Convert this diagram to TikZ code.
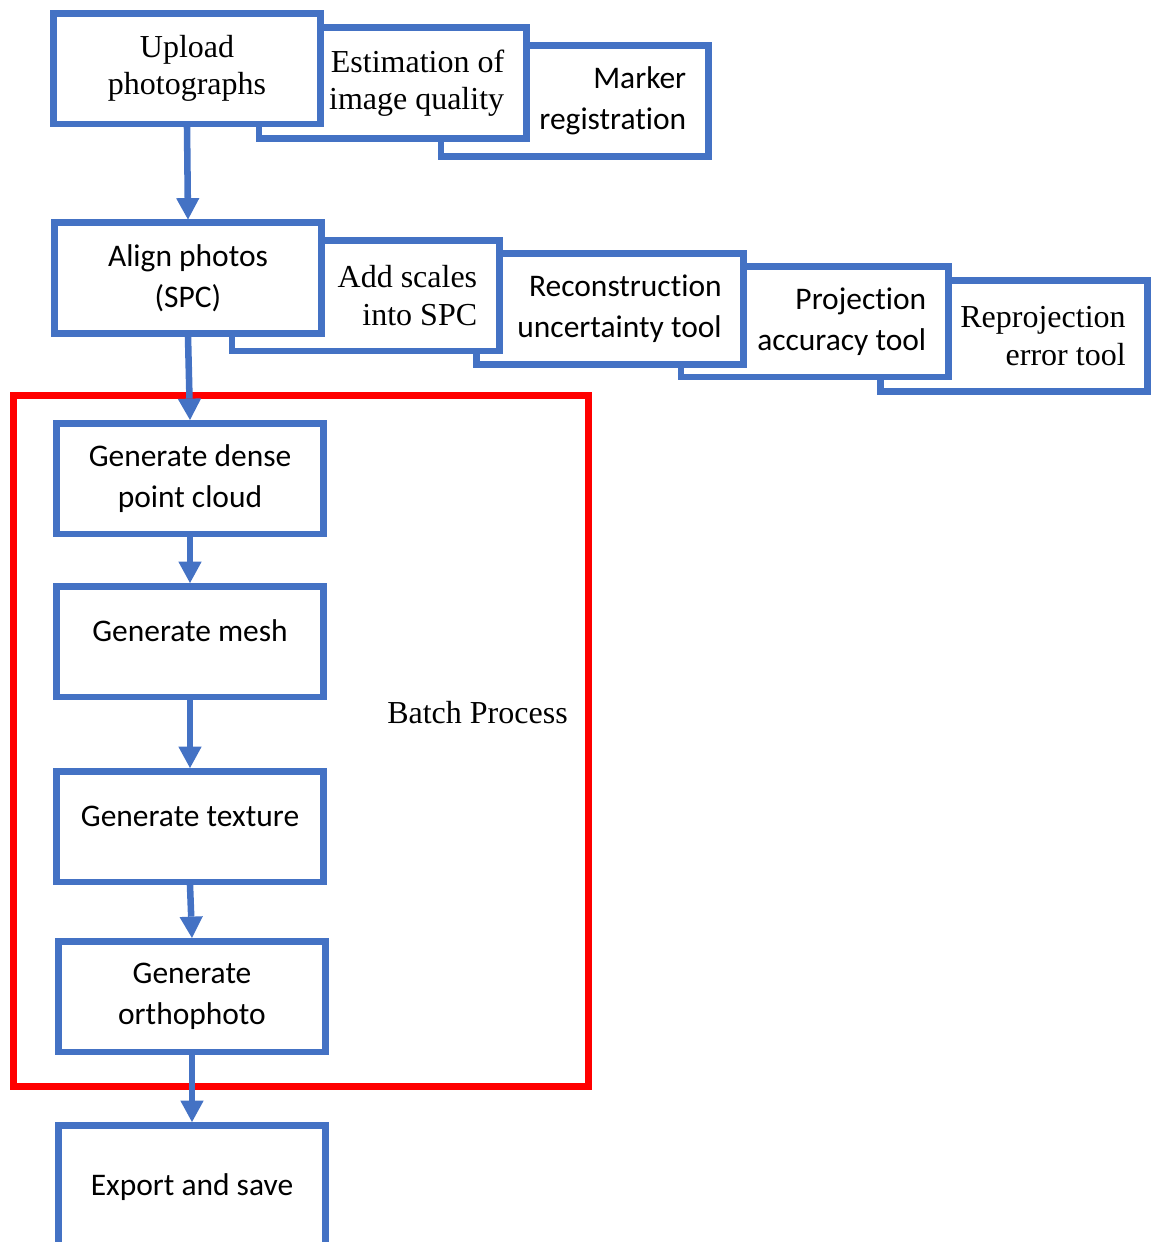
\documentclass[tikz,border=0pt]{standalone}
\usepackage{fontspec}
\setmainfont{Liberation Serif}
\setsansfont{Carlito}[Ligatures=NoCommon]
\usetikzlibrary{arrows.meta}
\definecolor{boxblue}{HTML}{4472C4}

\begin{document}
\begin{tikzpicture}[x=0.75pt,y=-0.75pt,
        block/.style={draw=boxblue,line width=4.9pt,fill=white,rectangle,inner sep=0pt,
                      minimum width=200.6pt,minimum height=82.9pt,align=center},
        romantext/.style={font=\fontsize{24}{28}\selectfont},
        sanstext/.style={font=\sffamily\fontsize{23.6}{30.75}\selectfont},
        offsettext/.style={text width=167.5pt,align=flush right},
        oneline/.style={text height=12pt,text depth=12pt},
        flowarrow/.style={draw=boxblue,line width=4.9pt,-{Triangle[width=17.5pt,length=16pt,line width=0pt]}}]

   \useasboundingbox (0,0) rectangle (1153,1242);
   \draw[red,line width=5.25pt] (13.5,395.5) rectangle (588.5,1086.5);

   \node[block,sanstext,offsettext] (marker) at (574.5,101) {Marker\\registration};
   \node[block,romantext,offsettext] (estim) at (392.5,83) {Estimation of\\image quality};
   \node[block,romantext] (upload) at (187,68.5) {Upload\\photographs};

   \node[block,romantext,offsettext] (reproj) at (1014,336) {Reprojection\\error tool};
   \node[block,sanstext,offsettext] (proj) at (814.5,321.5) {Projection\\accuracy tool};
   \node[block,sanstext,offsettext] (recon) at (610,309) {Reconstruction\\uncertainty tool};
   \node[block,romantext,offsettext] (scales) at (365.5,295.5) {Add scales\\into SPC};
   \node[block,sanstext] (alignph) at (188,278) {Align photos\\(SPC)};

   \node[block,sanstext] (dense) at (190,478.5) {Generate dense\\point cloud};
   \node[block,sanstext,oneline] (mesh) at (190,641.5) {Generate mesh};
   \node[block,sanstext,oneline] (texture) at (190,826.5) {Generate texture};
   \node[block,sanstext] (ortho) at (192,996.5) {Generate\\orthophoto};
   \node[block,sanstext,minimum height=96pt,text height=16.7pt,text depth=7.3pt] (export) at (192,1189.25) {Export and save};

   \node[romantext,anchor=base] (batch) at (477.5,723) {Batch Process};

   \draw[flowarrow] (upload.south) -- (alignph.north);
   \draw[flowarrow] (alignph.south) -- (dense.north);
   \draw[flowarrow] (dense.south) -- (mesh.north);
   \draw[flowarrow] (mesh.south) -- (texture.north);
   \draw[flowarrow] (texture.south) -- (ortho.north);
   \draw[flowarrow] (ortho.south) -- (export.north);

\end{tikzpicture}
\end{document}
